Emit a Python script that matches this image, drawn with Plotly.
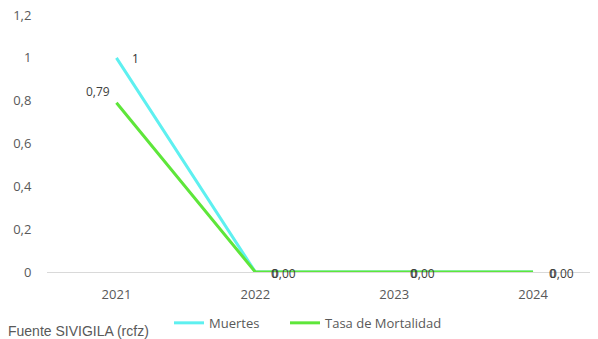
import plotly.graph_objects as go

years = ["2021", "2022", "2023", "2024"]
muertes = [1, 0, 0, 0]
muertes_labels = ["1", "0", "0", "0"]
tasa = [0.79, 0, 0, 0]
tasa_labels = ["0,79", "0,00", "0,00", "0,00"]
y_ticks = [0, 0.2, 0.4, 0.6, 0.8, 1, 1.2]
y_ticklabels = ["0", "0,2", "0,4", "0,6", "0,8", "1", "1,2"]

FONT = "Open Sans, Lato, sans-serif"
CYAN = "#5EF0F0"
GREEN = "#5EE63A"

fig = go.Figure()
fig.add_trace(go.Scatter(
    x=years, y=muertes, name="Muertes", mode="lines",
    line=dict(color=CYAN, width=3), legend="legend",
))
fig.add_trace(go.Scatter(
    x=years, y=tasa, name="Tasa de Mortalidad", mode="lines",
    line=dict(color=GREEN, width=3), legend="legend2",
))

annotations = []
# data labels placed at each category index / value, offsets in pixels
for i, (v, t) in enumerate(zip(muertes, muertes_labels)):
    annotations.append(dict(x=i, y=v, text=t, showarrow=False, xref="x", yref="y",
                            xshift=19, yshift=-1,
                            font=dict(family=FONT, size=12, color="#303030")))
for i, (v, t) in enumerate(zip(tasa, tasa_labels)):
    if i == 0:
        xs, ys = -18, 11
    else:
        xs, ys = 29, -1
    annotations.append(dict(x=i, y=v, text=t, showarrow=False, xref="x", yref="y",
                            xshift=xs, yshift=ys,
                            font=dict(family=FONT, size=12, color="#404040")))
annotations.append(dict(text="Fuente SIVIGILA (rcfz)", xref="paper", yref="paper",
                        x=-0.0755, y=-0.229, xanchor="left", yanchor="middle", showarrow=False,
                        font=dict(family="Liberation Sans, Arial, sans-serif", size=14, color="#595959")))

leg_common = dict(orientation="h", yanchor="middle", xanchor="left", y=-0.198,
                  font=dict(family=FONT, size=13, color="#595959"), itemwidth=30,
                  bgcolor="rgba(0,0,0,0)")
fig.update_layout(
    width=590, height=331,
    margin=dict(l=39, r=8, t=6.5, b=67, autoexpand=False),
    plot_bgcolor="white", paper_bgcolor="white",
    separators=", ",
    font=dict(family=FONT, size=13, color="#595959"),
    showlegend=True,
    legend=dict(x=0.2247, **leg_common),
    legend2=dict(x=0.4383, **leg_common),
    annotations=annotations,
)
fig.update_xaxes(type="category", range=[-0.5, 3.41], showgrid=False, showline=False,
                 ticks="outside", ticklen=10, tickcolor="rgba(0,0,0,0)", automargin=False,
                 tickfont=dict(family=FONT, size=13, color="#595959"), zeroline=False)
fig.update_yaxes(range=[0, 1.2], tickvals=y_ticks, ticktext=y_ticklabels,
                 showgrid=False, zeroline=True, zerolinecolor="#D9D9D9", zerolinewidth=1,
                 ticks="outside", ticklen=12, tickcolor="rgba(0,0,0,0)", automargin=False,
                 ticklabeloverflow="allow",
                 tickfont=dict(family=FONT, size=13, color="#595959"))

fig.write_html("out.html")
